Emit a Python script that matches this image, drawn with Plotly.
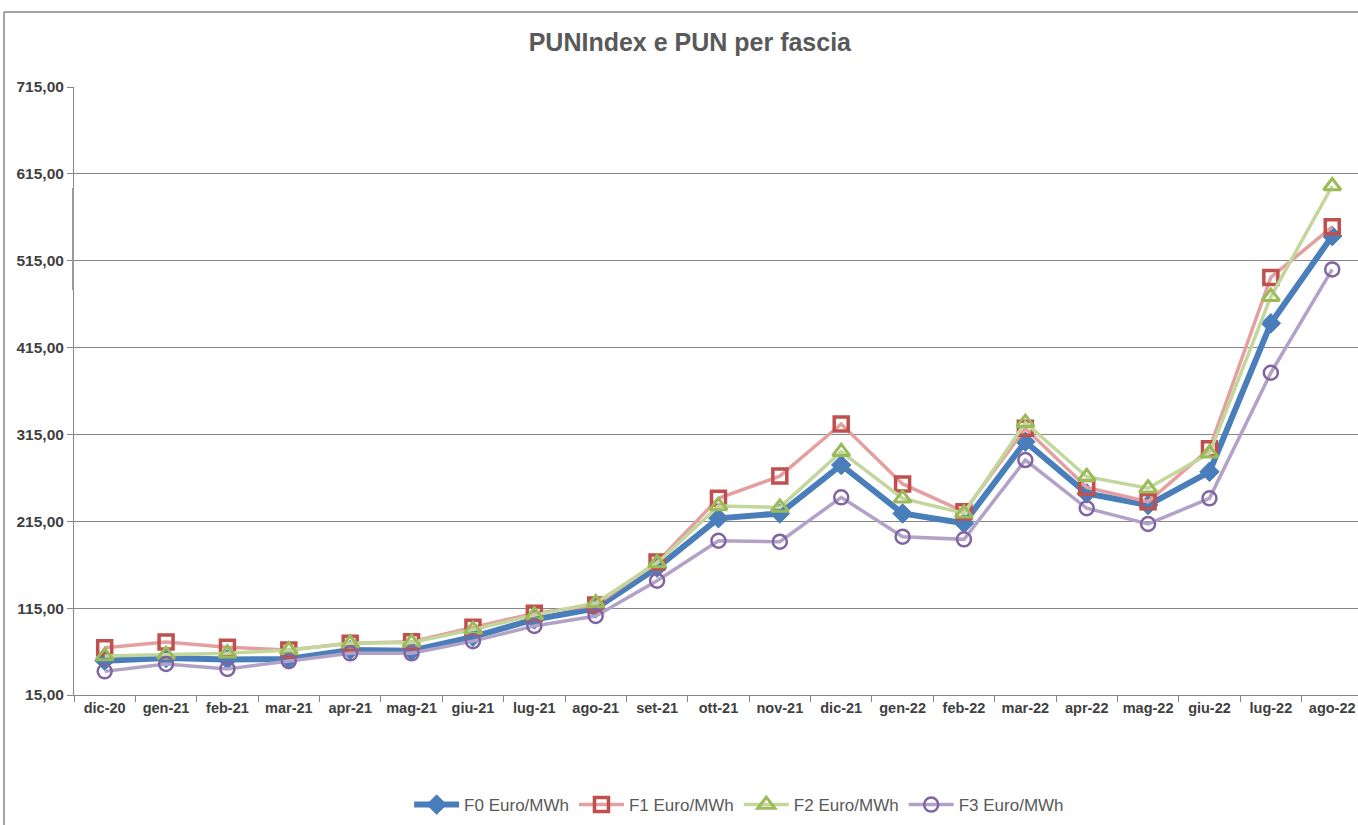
import plotly.graph_objects as go

months = ["dic-20", "gen-21", "feb-21", "mar-21", "apr-21", "mag-21", "giu-21", "lug-21",
          "ago-21", "set-21", "ott-21", "nov-21", "dic-21", "gen-22", "feb-22", "mar-22",
          "apr-22", "mag-22", "giu-22", "lug-22", "ago-22"]

f0 = [54.5, 57.6, 56.0, 56.5, 66.8, 66.0, 82.0, 102.0, 114.6, 161.5, 218.4, 224.0, 279.8,
      224.0, 212.7, 306.6, 247.0, 233.7, 272.0, 442.9, 543.4]
f1 = [69.5, 76.0, 69.9, 66.8, 74.5, 76.4, 92.9, 109.0, 118.6, 168.0, 241.4, 267.0, 327.0,
      258.0, 226.0, 322.0, 254.0, 237.5, 298.5, 495.8, 554.0]
f2 = [60.0, 61.5, 63.0, 66.8, 74.5, 75.5, 90.3, 107.0, 121.0, 167.0, 232.6, 231.0, 295.0,
      241.4, 224.2, 328.5, 266.3, 253.0, 293.3, 473.6, 601.0]
f3 = [42.2, 50.7, 45.0, 54.0, 63.0, 63.0, 77.0, 94.4, 106.0, 146.5, 192.6, 191.5, 242.6,
      197.3, 194.2, 285.5, 230.0, 211.9, 241.4, 386.0, 505.0]

names = ["F0 Euro/MWh", "F1 Euro/MWh", "F2 Euro/MWh", "F3 Euro/MWh"]
y_ticks = [15, 115, 215, 315, 415, 515, 615, 715]

fig = go.Figure()
fig.add_trace(go.Scatter(
    x=months, y=f0, name=names[0], mode="lines+markers",
    line=dict(color="#4A7EBB", width=6),
    marker=dict(symbol="diamond", size=15, color="#4A7EBB", line=dict(color="#4A7EBB", width=1))))
fig.add_trace(go.Scatter(
    x=months, y=f1, name=names[1], mode="lines+markers",
    line=dict(color="#E3A09F", width=3.5),
    marker=dict(symbol="square-open", size=14, color="#C0504D", line=dict(color="#C0504D", width=3.5))))
fig.add_trace(go.Scatter(
    x=months, y=f2, name=names[2], mode="lines+markers",
    line=dict(color="#C3D69B", width=3.5),
    marker=dict(symbol="triangle-up-open", size=15, color="#9BBB59", line=dict(color="#9BBB59", width=3))))
fig.add_trace(go.Scatter(
    x=months, y=f3, name=names[3], mode="lines+markers",
    line=dict(color="#B3A2C7", width=3.5),
    marker=dict(symbol="circle-open", size=14, color="#8064A2", line=dict(color="#8064A2", width=2.5))))

font_fam = "Liberation Sans, Arial, sans-serif"

fig.update_layout(
    width=1358, height=825,
    margin=dict(l=74, r=0, t=87, b=130),
    paper_bgcolor="white", plot_bgcolor="white",
    separators=",.",
    title=dict(text="<b>PUNIndex e PUN per fascia</b>", x=0.508, xanchor="center",
               y=0.949, yanchor="middle",
               font=dict(family=font_fam, size=25, color="#595959")),
    font=dict(family=font_fam, color="#404040"),
    legend=dict(orientation="h", x=0.518, xanchor="center", y=-0.181, yanchor="middle",
                font=dict(family=font_fam, size=17, color="#595959"),
                itemwidth=45, tracegroupgap=0),
    xaxis=dict(type="category", range=[-0.5, 20.42], showgrid=False,
               showline=True, linecolor="#868686", linewidth=1,
               ticks="outside", tickson="boundaries", ticklen=6, tickcolor="#868686",
               tickangle=0, automargin=False,
               tickfont=dict(family=font_fam, size=14.5, color="#404040", weight="bold")),
    yaxis=dict(range=[15, 715], tickvals=y_ticks, tickformat=".2f",
               showgrid=True, gridcolor="#868686", gridwidth=1,
               showline=True, linecolor="#868686", linewidth=1,
               ticks="outside", ticklen=6, tickcolor="#868686", zeroline=False,
               automargin=False,
               tickfont=dict(family=font_fam, size=15.5, color="#404040", weight="bold")),
    showlegend=True,
)

# outer chart frame (top and left edges visible)
fig.add_shape(type="line", xref="paper", yref="paper",
              x0=(4 - 74) / 1284, x1=1.01, y0=(695 - 12) / 608, y1=(695 - 12) / 608,
              line=dict(color="#868686", width=1.5))
fig.add_shape(type="line", xref="paper", yref="paper",
              x0=(4 - 74) / 1284, x1=(4 - 74) / 1284, y0=(695 - 12) / 608, y1=(695 - 830) / 608,
              line=dict(color="#868686", width=1.5))
fig.add_shape(type="line", xref="paper", yref="paper",
              x0=(73 - 74) / 1284, x1=(73 - 74) / 1284, y0=(695 - 188) / 608, y1=(695 - 290) / 608,
              line=dict(color="#999999", width=2))

fig.write_html("out.html", config={"displayModeBar": False},
               post_script="document.body.style.margin='0';document.body.style.overflow='hidden';")
